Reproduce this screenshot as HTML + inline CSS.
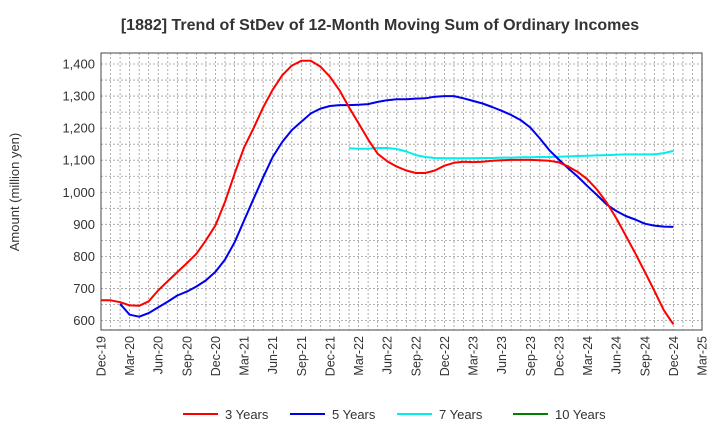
<!DOCTYPE html>
<html><head><meta charset="utf-8"><style>
body{margin:0;background:#fff;font-family:"Liberation Sans",Arial,sans-serif;}
svg text{font-family:"Liberation Sans",Arial,sans-serif;}
</style></head><body>
<svg id="chart" width="720" height="440" xmlns="http://www.w3.org/2000/svg">
<text x="380" y="30" text-anchor="middle" font-size="16" font-weight="bold" fill="#333">[1882]  Trend of StDev of 12-Month Moving Sum of Ordinary Incomes</text>
<text transform="translate(19,192) rotate(-90)" text-anchor="middle" font-size="13" fill="#333">Amount (million yen)</text>
<g id="grid"></g>
<g id="yticks"></g>
<g id="xticks"></g>
<g id="series"></g>
<rect x="101" y="53" width="601" height="277" fill="none" stroke="#444" stroke-width="1"/>
<g id="legend"></g>
</svg>
<script>
const xLabels = ["Dec-19","Mar-20","Jun-20","Sep-20","Dec-20","Mar-21","Jun-21","Sep-21","Dec-21","Mar-22","Jun-22","Sep-22","Dec-22","Mar-23","Jun-23","Sep-23","Dec-23","Mar-24","Jun-24","Sep-24","Dec-24","Mar-25"];
const yTicks = [600,700,800,900,1000,1100,1200,1300,1400];
const seriesNames = ["3 Years","5 Years","7 Years","10 Years"];
const seriesColors = ["#ff0000","#0000ee","#00eeee","#008000"];
const red = [663,663,657,647,646,660,694,723,751,779,808,850,897,970,1058,1140,1200,1265,1320,1365,1395,1410,1410,1392,1360,1318,1265,1215,1165,1120,1097,1080,1068,1060,1060,1068,1083,1092,1095,1094,1095,1098,1100,1101,1101,1101,1100,1098,1093,1080,1063,1040,1008,968,920,865,810,752,693,632,588];
const blueStart = 2;
const blue = [652,618,612,623,641,659,678,690,706,725,752,790,844,912,980,1047,1110,1157,1194,1220,1246,1261,1269,1272,1272,1273,1275,1282,1287,1290,1290,1292,1293,1298,1300,1300,1293,1285,1277,1266,1254,1241,1225,1202,1168,1131,1102,1074,1048,1019,991,962,942,926,915,902,896,893,892];
const cyanStart = 26;
const cyan = [1137,1136,1136,1138,1138,1135,1127,1116,1110,1107,1106,1106,1106,1106,1107,1107,1108,1108,1109,1109,1110,1110,1111,1112,1113,1114,1115,1116,1117,1118,1118,1118,1118,1122,1129];
const L=101,R=702,T=53,B=330;
const xOf = m => L + m*(R-L)/63;
const yOf = v => 320.5 - (v-600)*0.3206;
const NS="http://www.w3.org/2000/svg";
function mk(tag, parent){const e=document.createElementNS(NS,tag);parent.appendChild(e);return e;}
const grid=document.getElementById('grid');
for(let m=1;m<63;m++){
  const l=mk('line',grid);
  
  
  l.setAttribute('x1',xOf(m));l.setAttribute('x2',xOf(m));l.setAttribute('y1',T);l.setAttribute('y2',B);
  l.setAttribute('stroke','#999');l.setAttribute('stroke-dasharray','2,2');l.setAttribute('stroke-width','0.8');
}
const yt=document.getElementById('yticks');
for(let v=600;v<=1400;v+=50){
  const l=mk('line',grid);
  
  
  l.setAttribute('x1',L);l.setAttribute('x2',R);l.setAttribute('y1',yOf(v));l.setAttribute('y2',yOf(v));
  l.setAttribute('stroke','#999');l.setAttribute('stroke-dasharray','2,2');l.setAttribute('stroke-width','0.8');
}
yTicks.forEach(v=>{
  const t=mk('text',yt);
  
  
  t.setAttribute('x',L-6);t.setAttribute('y',yOf(v)+4.5);t.setAttribute('text-anchor','end');
  t.setAttribute('font-size','13');t.setAttribute('fill','#333');
  t.textContent=v.toLocaleString('en-US');
});
const xt=document.getElementById('xticks');
xLabels.forEach((s,i)=>{
  const x=xOf(i*3);
  const t=mk('text',xt);
  
  
  t.setAttribute('transform','translate('+(x+4.5)+','+(B+6)+') rotate(-90)');
  t.setAttribute('text-anchor','end');t.setAttribute('font-size','12.5');t.setAttribute('fill','#333');
  t.textContent=s;
});
const sg=document.getElementById('series');
function drawLine(vals,start,color,name){
  const p=mk('polyline',sg);
  
  
  p.setAttribute('points',vals.map((v,i)=>xOf(start+i).toFixed(1)+','+yOf(v).toFixed(1)).join(' '));
  p.setAttribute('fill','none');p.setAttribute('stroke',color);p.setAttribute('stroke-width','2');
  p.setAttribute('stroke-linejoin','round');
}
drawLine(cyan,cyanStart,seriesColors[2],'line-7-years');
drawLine(blue,blueStart,seriesColors[1],'line-5-years');
drawLine(red,0,seriesColors[0],'line-3-years');
const lg=document.getElementById('legend');
const lx=[183,290,397,513];
seriesNames.forEach((n,i)=>{
  const l=mk('line',lg);
  
  
  l.setAttribute('x1',lx[i]);l.setAttribute('x2',lx[i]+35);l.setAttribute('y1',414);l.setAttribute('y2',414);
  l.setAttribute('stroke',seriesColors[i]);l.setAttribute('stroke-width','2');
  const t=mk('text',lg);
  
  
  t.setAttribute('x',lx[i]+42);t.setAttribute('y',419);t.setAttribute('font-size','13');t.setAttribute('fill','#333');
  t.textContent=n;
});
</script>
</body></html>
